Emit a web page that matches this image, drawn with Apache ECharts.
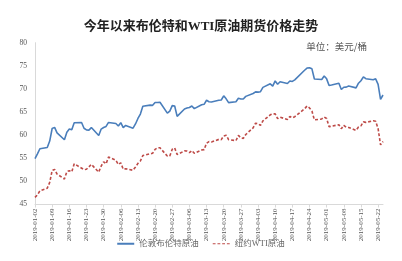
<!DOCTYPE html>
<html><head><meta charset="utf-8">
<script src="https://cdn.jsdelivr.net/npm/echarts@6/dist/echarts.min.js"></script>
<style>html,body{margin:0;padding:0;background:#fff}#c{width:402px;height:261px}</style>
</head><body><div id="c"></div>
<script>
var title = '今年以来布伦特和WTI原油期货价格走势';
var unitText = '单位：美元/桶';
var seriesNames = ['伦敦布伦特原油', '纽约WTI原油'];
var yTicks = [45, 50, 55, 60, 65, 70, 75, 80];
var startDate = '2019-01-02', endDate = '2019-05-24';
var tradeDates = [
'2019-01-02','2019-01-03','2019-01-04','2019-01-07','2019-01-08','2019-01-09','2019-01-10','2019-01-11',
'2019-01-14','2019-01-15','2019-01-16','2019-01-17','2019-01-18','2019-01-21','2019-01-22','2019-01-23','2019-01-24','2019-01-25',
'2019-01-28','2019-01-29','2019-01-30','2019-01-31','2019-02-01',
'2019-02-04','2019-02-05','2019-02-06','2019-02-07','2019-02-08',
'2019-02-11','2019-02-12','2019-02-13','2019-02-14','2019-02-15',
'2019-02-18','2019-02-19','2019-02-20','2019-02-21','2019-02-22',
'2019-02-25','2019-02-26','2019-02-27','2019-02-28','2019-03-01',
'2019-03-04','2019-03-05','2019-03-06','2019-03-07','2019-03-08',
'2019-03-11','2019-03-12','2019-03-13','2019-03-14','2019-03-15',
'2019-03-18','2019-03-19','2019-03-20','2019-03-21','2019-03-22',
'2019-03-25','2019-03-26','2019-03-27','2019-03-28','2019-03-29',
'2019-04-01','2019-04-02','2019-04-03','2019-04-04','2019-04-05',
'2019-04-08','2019-04-09','2019-04-10','2019-04-11','2019-04-12',
'2019-04-15','2019-04-16','2019-04-17','2019-04-18',
'2019-04-22','2019-04-23','2019-04-24','2019-04-25','2019-04-26',
'2019-04-29','2019-04-30','2019-05-01','2019-05-02','2019-05-03',
'2019-05-06','2019-05-07','2019-05-08','2019-05-09','2019-05-10',
'2019-05-13','2019-05-14','2019-05-15','2019-05-16','2019-05-17',
'2019-05-20','2019-05-21','2019-05-22','2019-05-23','2019-05-24'];
var brent = [
54.91,55.95,57.06,57.33,58.72,61.44,61.68,60.48,
59.00,60.64,61.32,61.18,62.70,62.74,61.50,61.14,61.09,61.64,
59.93,61.32,61.65,61.89,62.75,
62.51,61.98,62.69,61.63,62.10,
61.51,62.42,63.61,64.57,66.25,
66.50,66.45,67.08,67.07,67.12,
64.76,65.21,66.39,66.31,64.07,
65.67,65.86,65.99,66.30,65.74,
66.58,66.67,67.55,67.23,67.16,
67.54,67.61,68.50,67.86,67.03,
67.21,67.97,67.83,67.82,68.39,
69.01,69.37,69.31,69.40,70.34,
71.10,70.61,71.73,71.02,71.55,
71.18,71.72,71.62,71.97,
74.04,74.51,74.57,74.35,72.15,
72.04,72.80,72.18,70.75,70.85,
71.24,69.88,70.37,70.39,70.62,
70.23,71.24,71.77,72.62,72.21,
71.97,72.18,70.99,67.76,68.69];
var wti = [
46.54,47.09,47.96,48.52,49.78,52.36,52.59,51.59,
50.51,52.11,52.31,52.07,53.80,null,52.57,52.62,53.13,53.69,
51.99,53.31,54.23,53.79,55.26,
54.56,53.66,54.01,52.64,52.72,
52.41,53.10,53.90,54.41,55.59,
null,56.09,56.92,57.26,57.26,
55.48,55.50,56.94,57.22,55.80,
56.59,56.56,56.22,56.66,56.07,
56.79,56.87,58.26,58.61,58.52,
59.09,59.03,59.83,59.98,59.04,
58.82,59.94,59.41,59.30,60.14,
61.59,62.58,62.46,62.10,63.08,
64.40,64.61,64.61,63.58,63.89,
63.40,64.05,63.76,64.00,
65.70,66.30,65.89,65.21,63.30,
63.50,63.91,63.60,61.81,61.94,
62.25,61.40,62.12,61.70,61.66,
61.04,61.78,62.02,62.87,62.76,
63.10,62.99,61.42,57.91,58.63];

function fmt(d){var m=d.getUTCMonth()+1, dd=d.getUTCDate();return d.getUTCFullYear()+'-'+(m<10?'0':'')+m+'-'+(dd<10?'0':'')+dd;}
var cats = [];
for (var t = Date.parse(startDate+'T00:00:00Z'); t <= Date.parse(endDate+'T00:00:00Z'); t += 86400000) cats.push(fmt(new Date(t)));
function mapSeries(vals){
  var m = {}; tradeDates.forEach(function(d,i){ m[d]=vals[i]; });
  return cats.map(function(c){ return (c in m && m[c]!=null) ? m[c] : null; });
}
var chart = echarts.init(document.getElementById('c'), null, {renderer:'canvas'});
var serif = '"Liberation Serif","Times New Roman","Noto Sans CJK SC",serif';
chart.setOption({
  animation:false,
  backgroundColor:'#fff',
  title:[{text:title,left:'center',top:15,textStyle:{fontSize:13,fontWeight:'bold',color:'#222',fontFamily:'"Liberation Serif","Noto Sans CJK SC",serif'}},
         {text:unitText,right:30,top:37,textStyle:{fontSize:9.5,fontWeight:'normal',color:'#555',fontFamily:'"Noto Sans CJK SC",serif'}}],
  legend:{bottom:8,left:'center',itemWidth:17,itemHeight:2,itemGap:14,
    textStyle:{fontSize:8.5,color:'#666',fontFamily:'"Liberation Serif","Noto Sans CJK SC",serif'},
    data:[{name:seriesNames[0],icon:'rect'},
          {name:seriesNames[1],icon:'path://M0,0H3V1H0Z M5,0H8V1H5Z M10,0H13V1H10Z M15,0H18V1H15Z'}]},
  grid:{left:35,right:19,top:42.7,bottom:56.5,containLabel:false},
  xAxis:{type:'category',data:cats,boundaryGap:false,
    axisLine:{lineStyle:{color:'#d9d9d9',width:1}},
    axisTick:{show:true,interval:6,length:3,lineStyle:{color:'#d9d9d9'}},
    axisLabel:{interval:6,rotate:90,fontSize:7,color:'#555',fontFamily:serif,margin:4},
    splitLine:{show:false}},
  yAxis:{type:'value',min:yTicks[0],max:yTicks[yTicks.length-1],interval:5,
    axisLine:{show:true,lineStyle:{color:'#d9d9d9'}},axisTick:{show:false},
    axisLabel:{fontSize:7.5,color:'#555',fontFamily:serif,margin:8},
    splitLine:{show:false}},
  series:[
    {name:seriesNames[0],type:'line',data:mapSeries(brent),connectNulls:true,symbol:'none',
     lineStyle:{color:'#4a7ebb',width:1.6},itemStyle:{color:'#4a7ebb'}},
    {name:seriesNames[1],type:'line',data:mapSeries(wti),connectNulls:true,symbol:'none',
     lineStyle:{color:'#be4b48',width:1.6,type:[3,2]},itemStyle:{color:'#be4b48'}}
  ]
});
</script></body></html>
